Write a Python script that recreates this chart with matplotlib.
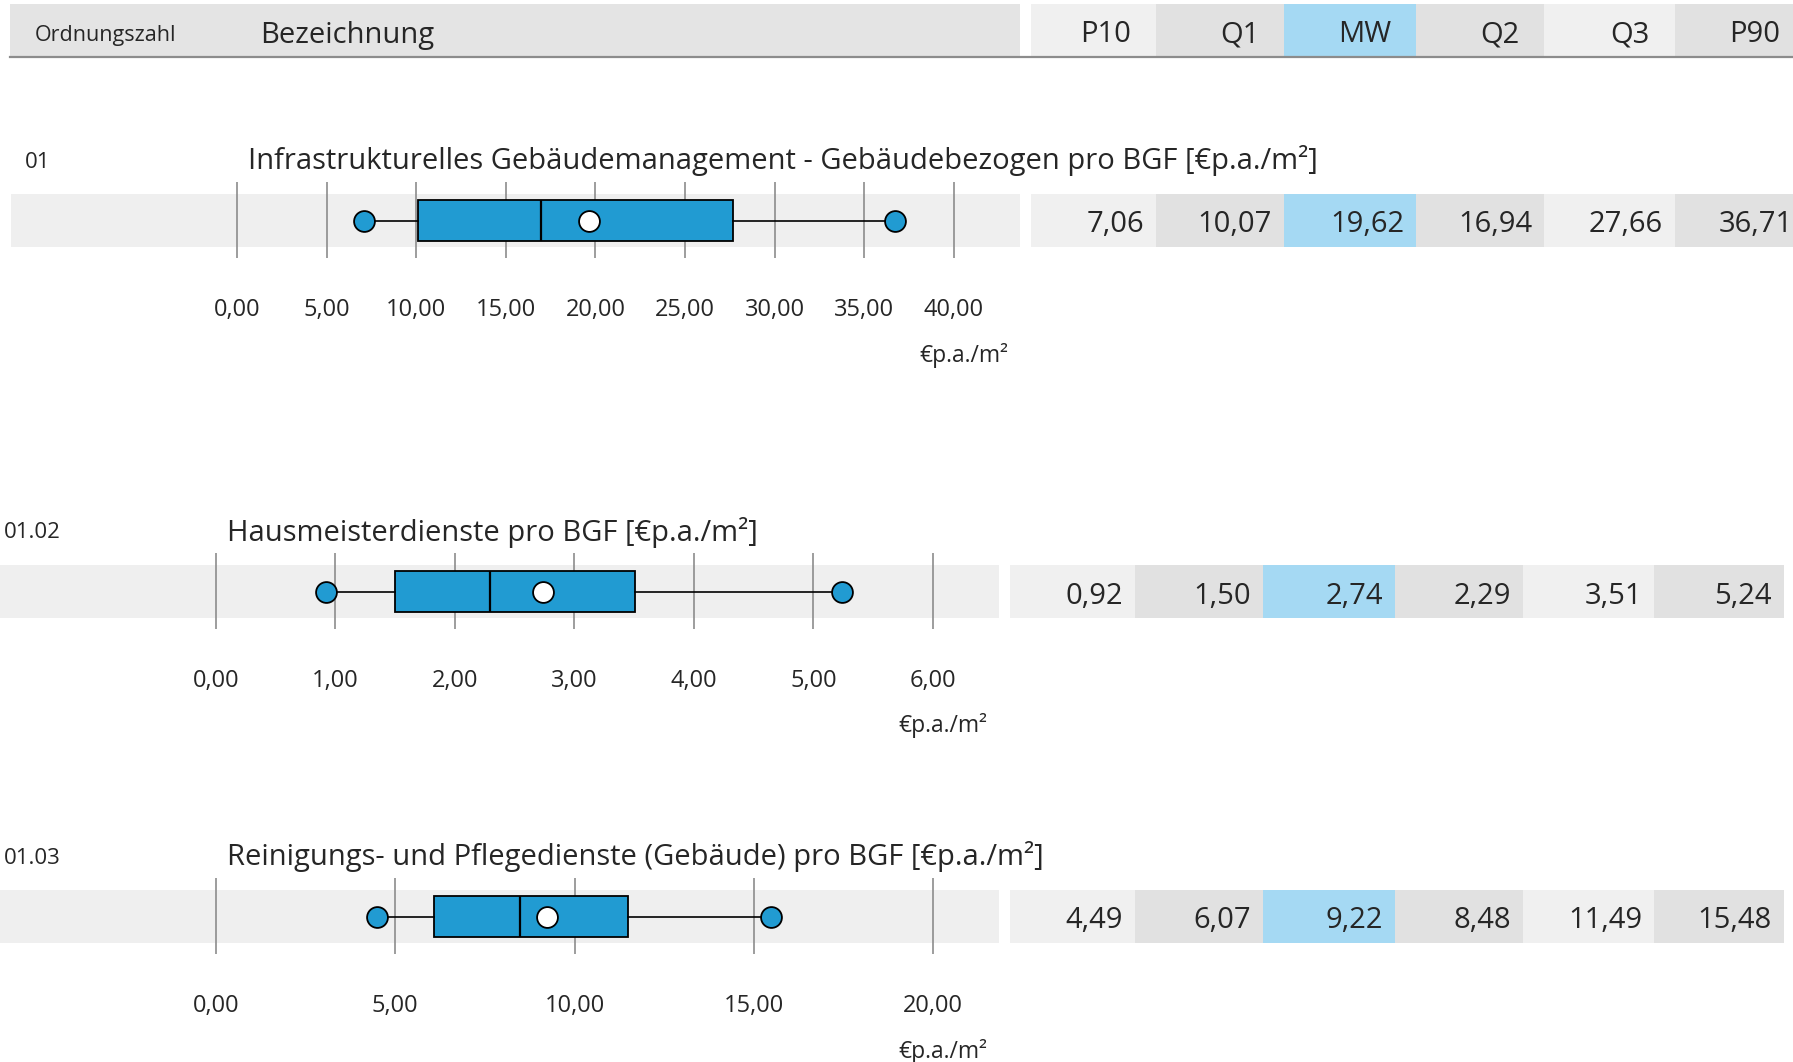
import numpy as np
import matplotlib.pyplot as plt
import matplotlib
from matplotlib.patches import Rectangle

matplotlib.rcParams['font.family'] = ['Open Sans', 'DejaVu Sans']

# data
codes = ["01", "01.02", "01.03"]
titles = ["Infrastrukturelles Gebäudemanagement - Gebäudebezogen pro BGF [€p.a./m²]",
          "Hausmeisterdienste pro BGF [€p.a./m²]",
          "Reinigungs- und Pflegedienste (Gebäude) pro BGF [€p.a./m²]"]
p10 = [7.06, 0.92, 4.49]
q1 = [10.07, 1.50, 6.07]
mw = [19.62, 2.74, 9.22]
q2 = [16.94, 2.29, 8.48]
q3 = [27.66, 3.51, 11.49]
p90 = [36.71, 5.24, 15.48]
axis_max = [40, 6, 20]
tick_step = [5, 1, 5]
col_labels = ["P10", "Q1", "MW", "Q2", "Q3", "P90"]
unit = "€p.a./m²"

# layout (pixels)
W, H = 1793, 1062
BLUE = '#219bd2'
band_tops = [194, 565, 890]
shifts = [0, -21, -21]
cell_edges = [1031, 1156, 1284, 1416, 1544, 1675, 1805]
cell_cols = ['#f0f0f0', '#e1e1e1', '#a5d9f3', '#e1e1e1', '#f0f0f0', '#e1e1e1']
band_h = 53
txt = '#262626'

def fmt(v):
    return f"{v:.2f}".replace('.', ',')

fig = plt.figure(figsize=(W / 100, H / 100), dpi=100)
bg = fig.add_axes([0, 0, 1, 1])
bg.set_xlim(0, W)
bg.set_ylim(H, 0)
bg.axis('off')

# header
bg.add_patch(Rectangle((10, 4), 1010, 53, color='#e4e4e4', lw=0))
for i, lab in enumerate(col_labels):
    x0, x1 = cell_edges[i], cell_edges[i + 1]
    bg.add_patch(Rectangle((x0, 4), x1 - x0, 53, color=cell_cols[i], lw=0))
    bg.text(x1 - 25, 35, lab, ha='right', va='center', fontsize=21, color=txt)
bg.plot([10, W], [57, 57], color='#8c8c8c', lw=1.6)
bg.text(35, 35, "Ordnungszahl", ha='left', va='center', fontsize=15.5, color=txt)
bg.text(260, 35, "Bezeichnung", ha='left', va='center', fontsize=21, color=txt)

for k in range(len(codes)):
    top = band_tops[k]
    s = shifts[k]
    bottom = top + band_h
    # labels
    bg.text(25 + s, top - 32, codes[k], ha='left', va='center', fontsize=16, color=txt)
    bg.text(248 + s, top - 33, titles[k], ha='left', va='center', fontsize=21, color=txt)

    # value cells
    vals = [p10[k], q1[k], mw[k], q2[k], q3[k], p90[k]]
    for i, v in enumerate(vals):
        x0, x1 = cell_edges[i] + s, cell_edges[i + 1] + s
        bg.add_patch(Rectangle((x0, top), x1 - x0, band_h, color=cell_cols[i], lw=0))
        bg.text(x1 - 12, top + 31, fmt(v), ha='right', va='center', fontsize=21, color=txt)

    # unit label
    bg.text(1008 + s, top + 161, unit, ha='right', va='center', fontsize=16.5, color=txt)

    # boxplot axes = grey band
    band_left, band_right = 11 + s, 1020 + s
    zero_px, max_px = 237 + s, 954 + s
    per = (max_px - zero_px) / axis_max[k]
    ax = fig.add_axes([band_left / W, 1 - bottom / H, (band_right - band_left) / W, band_h / H])
    ax.set_facecolor('#efefef')
    ax.set_xlim((band_left - zero_px) / per, (band_right - zero_px) / per)
    ax.set_ylim(0, 1)
    for sp in ax.spines.values():
        sp.set_visible(False)
    ticks = np.arange(0, axis_max[k] + tick_step[k] / 2, tick_step[k])
    ax.vlines(ticks, -0.21, 1.23, color='#8c8c8c', lw=1.2, clip_on=False, zorder=1)
    ax.set_xticks(ticks)
    ax.set_xticklabels([fmt(t) for t in ticks])
    ax.tick_params(axis='x', length=0, pad=37, labelsize=17, colors=txt)
    ax.set_yticks([])

    stats = [dict(med=q2[k], q1=q1[k], q3=q3[k], whislo=p10[k], whishi=p90[k],
                  mean=mw[k], fliers=[])]
    ax.bxp(stats, positions=[0.5], widths=0.755, orientation='horizontal',
           patch_artist=True, showcaps=False, showfliers=False, showmeans=True,
           manage_ticks=False,
           boxprops=dict(facecolor=BLUE, edgecolor='black', lw=1.3),
           medianprops=dict(color='black', lw=1.6),
           whiskerprops=dict(color='black', lw=1.2),
           meanprops=dict(marker='o', markerfacecolor='white', markeredgecolor='black',
                          markersize=15, markeredgewidth=1.3))
    ax.plot([p10[k], p90[k]], [0.5, 0.5], ls='none', marker='o', ms=15,
            mfc=BLUE, mec='black', mew=1.3, zorder=4)

fig.savefig('out.png', dpi=100)
